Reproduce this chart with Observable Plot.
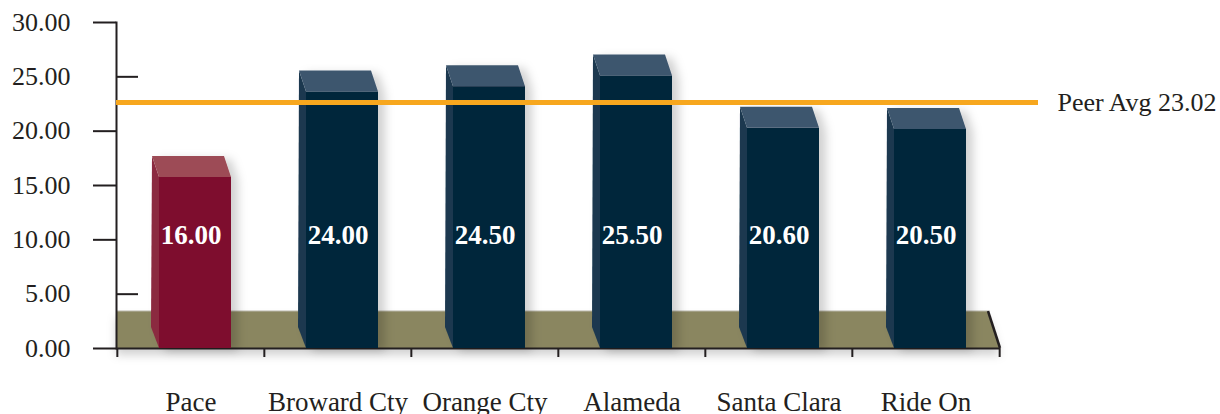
<!DOCTYPE html>
<html><head><meta charset="utf-8">
<script src="https://cdn.jsdelivr.net/npm/d3@7"></script>
<script src="https://cdn.jsdelivr.net/npm/@observablehq/plot@0.6"></script>
<style>
body{margin:0;background:#fff;}
#chart{position:relative;width:1220px;height:414px;}
#chart svg{position:absolute;left:0;top:0;overflow:visible;}
</style></head><body><div id="chart"></div>
<script>
// ---- data ----
const categories = ["Pace","Broward Cty","Orange Cty","Alameda","Santa Clara","Ride On"];
const values = [16.00, 24.00, 24.50, 25.50, 20.60, 20.50];
const peerAvg = 23.02;
const peerLabel = "Peer Avg 23.02";
const yTicks = [0, 5, 10, 15, 20, 25, 30];
const highlight = "Pace";

const data = categories.map((c, i) => ({name: c, value: values[i]}));

// ---- layout / style ----
const W = 1220, H = 414, mL = 116, mR = 220, mT = 22, mB = 66;
const font = "'Liberation Serif','Times New Roman',serif";
const ink = "#231f20";
const colors = {
  hi: {front: "#7e112e", side: "#8b2a40", top: "#9d4c57"},
  lo: {front: "#06253b", side: "#1c3950", top: "#3e566e"}
};
const bw = (W - mL - mR) / categories.length;

const svgNS = "http://www.w3.org/2000/svg";
function poly(pts, fill) {
  const p = document.createElementNS(svgNS, "polygon");
  p.setAttribute("points", pts.map(d => d.join(",")).join(" "));
  p.setAttribute("fill", fill);
  return p;
}

function draw3d(index, scales, vals, dims, ctx, next) {
  const g = next(index, scales, vals, dims, ctx);
  const DX = 7, DY = 21;
  const rects = Array.from(g.querySelectorAll("rect"));
  rects.forEach((r, k) => {
    const d = data[index[k]];
    const c = d.name === highlight ? colors.hi : colors.lo;
    const x = +r.getAttribute("x"), y = +r.getAttribute("y");
    const w = +r.getAttribute("width"), h = +r.getAttribute("height");
    g.appendChild(poly([[x, y], [x - DX, y - DY], [x - DX - 1, y + h - DY], [x, y + h]], c.side));
    g.appendChild(poly([[x, y], [x + w, y], [x + w - DX, y - DY], [x - DX, y - DY]], c.top));
  });
  g.setAttribute("filter", "url(#barShadow)");
  return g;
}

function drawFloor(index, scales, vals, dims) {
  const g = document.createElementNS(svgNS, "g");
  const y0 = scales.y(0), L = dims.marginLeft, R = dims.width - dims.marginRight;
  const depth = 37, slant = 12;
  const p = poly([[L, y0 - depth], [R - slant, y0 - depth], [R, y0], [L, y0]], "#8a8660");
  p.setAttribute("filter", "url(#floorShadow)");
  g.appendChild(p);
  const top = document.createElementNS(svgNS, "line");
  top.setAttribute("x1", L); top.setAttribute("x2", R - slant);
  top.setAttribute("y1", y0 - depth); top.setAttribute("y2", y0 - depth);
  top.setAttribute("stroke", "#b9b7aa"); top.setAttribute("stroke-width", 1);
  g.appendChild(top);
  const edge = document.createElementNS(svgNS, "line");
  edge.setAttribute("x1", R - slant); edge.setAttribute("y1", y0 - depth);
  edge.setAttribute("x2", R); edge.setAttribute("y2", y0);
  edge.setAttribute("stroke", ink); edge.setAttribute("stroke-width", 2.5);
  g.appendChild(edge);
  return g;
}

// ---- back layer: y axis (value scale) ----
const axisPlot = Plot.plot({
  width: W, height: H, marginLeft: mL, marginRight: mR, marginTop: mT, marginBottom: mB,
  style: {fontFamily: font, fontSize: "26px", color: ink, background: "transparent"},
  x: {type: "band", domain: categories, padding: 0, axis: null},
  y: {domain: [0, 30]},
  marks: [
    Plot.axisY({ticks: yTicks, tickSize: 0, tickPadding: 46, tickFormat: d => d.toFixed(2), label: null, fill: ink}),
    Plot.axisY({ticks: yTicks.filter(t => t !== 5 && t !== 25), tickSize: 23, strokeWidth: 2, stroke: ink, text: null, label: null}),
    Plot.axisY({ticks: [5, 25], tickSize: 22, dx: 22, strokeWidth: 2, stroke: ink, text: null, label: null})
  ]
});

// ---- front layer: floor, bars, average line ----
const barPlot = Plot.plot({
  width: W, height: H, marginLeft: mL, marginRight: mR, marginTop: mT, marginBottom: mB,
  style: {fontFamily: font, fontSize: "27px", color: ink, background: "transparent"},
  x: {type: "band", domain: categories, padding: 0},
  y: {domain: [0, 30.5], axis: null},
  marks: [
    Plot.frame({render: drawFloor, stroke: "none"}),
    Plot.ruleY([0], {stroke: ink, strokeWidth: 2}),
    Plot.frame({anchor: "left", stroke: ink, strokeWidth: 2}),
    Plot.axisX({tickSize: 9, dx: -bw / 2, text: null, label: null, stroke: ink, strokeWidth: 2}),
    Plot.axisX({ticks: [categories[categories.length - 1]], tickSize: 9, dx: bw / 2, text: null, label: null, stroke: ink, strokeWidth: 2}),
    Plot.axisX({tickSize: 0, tickPadding: 43, label: null, fill: ink, fontSize: 27}),
    Plot.barY(data, {
      x: "name", y: "value",
      fill: d => d.name === highlight ? colors.hi.front : colors.lo.front,
      insetLeft: 42, insetRight: 33, render: draw3d
    }),
    Plot.ruleY([peerAvg], {stroke: "#f7a71e", strokeWidth: 5, insetRight: -38}),
    Plot.text([peerLabel], {text: d => d, y: () => peerAvg, frameAnchor: "right", dx: 57, textAnchor: "start", fill: ink, fontSize: 26}),
    Plot.text(data, {x: "name", y: () => 10.6, text: d => d.value.toFixed(2), fill: "white", fontWeight: "bold", fontSize: 27})
  ]
});

d3.select(barPlot).insert("defs", ":first-child").html(`
  <filter id="barShadow" x="-30%" y="-10%" width="160%" height="120%">
    <feDropShadow dx="7" dy="3" stdDeviation="5" flood-color="#000" flood-opacity="0.18"/>
  </filter>
  <filter id="floorShadow" x="-5%" y="-20%" width="110%" height="200%">
    <feDropShadow dx="0" dy="7" stdDeviation="5" flood-color="#000" flood-opacity="0.18"/>
  </filter>`);

const host = document.getElementById("chart");
host.appendChild(axisPlot);
host.appendChild(barPlot);
</script>
</body></html>
